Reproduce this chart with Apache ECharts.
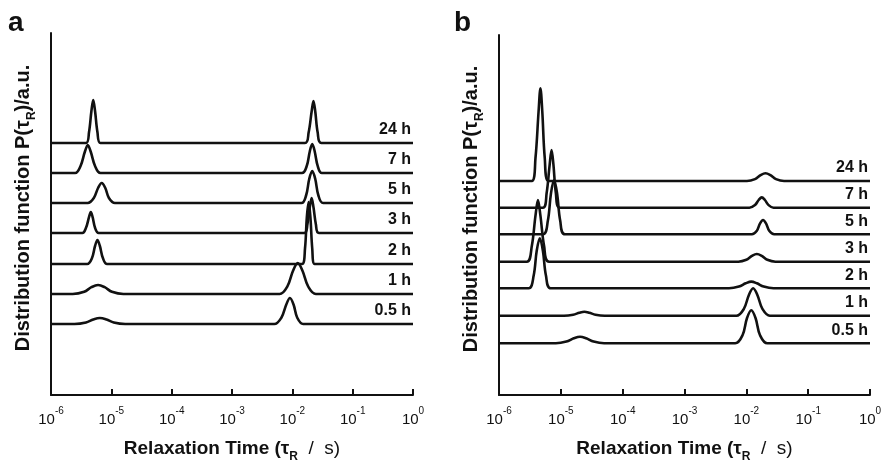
<!DOCTYPE html>
<html>
<head>
<meta charset="utf-8">
<script src="https://cdn.jsdelivr.net/npm/echarts@6/dist/echarts.min.js"></script>
<style>
  html, body { margin: 0; padding: 0; background: #fff; }
  #chart { width: 882px; height: 463px; }
</style>
</head>
<body>
<div id="chart"></div>
<script>
  // curve labels, bottom to top
  const times = ['0.5 h', '1 h', '2 h', '3 h', '5 h', '7 h', '24 h'];

  // vertical offsets of each trace (a.u.)
  const offsetsA = [71, 101, 131, 162, 192, 222, 252];
  const offsetsB = [51.7, 79.3, 106.7, 133.3, 160.7, 187.3, 214];

  // traces: [log10(tau / s), P] pairs, P above the trace baseline
  const curvesA = [
    [[-6, 0], [-5.61, 0], [-5.42, 1.5], [-5.30, 4.5], [-5.19, 6], [-5.08, 4.5], [-4.96, 1.5], [-4.77, 0],
     [-2.30, 0], [-2.18, 6.5], [-2.10, 19.5], [-2.04, 26], [-1.98, 19.5], [-1.92, 6.5], [-1.82, 0], [0, 0]],
    [[-6, 0], [-5.64, 0], [-5.45, 2.2], [-5.33, 6.8], [-5.22, 9], [-5.11, 6.8], [-4.99, 2.2], [-4.80, 0],
     [-2.21, 0], [-2.08, 7.8], [-1.99, 23], [-1.91, 31], [-1.83, 23], [-1.74, 7.8], [-1.61, 0], [0, 0]],
    [[-6, 0], [-5.40, 0], [-5.32, 6], [-5.27, 18], [-5.23, 24], [-5.19, 18], [-5.14, 6], [-5.07, 0],
     [-1.84, 0], [-1.79, 15.5], [-1.76, 46.5], [-1.73, 62], [-1.70, 46.5], [-1.67, 15.5], [-1.63, 0], [0, 0]],
    [[-6, 0], [-5.48, 0], [-5.42, 5.2], [-5.37, 15.8], [-5.34, 21], [-5.31, 15.8], [-5.27, 5.2], [-5.21, 0],
     [-1.80, 0], [-1.75, 8.8], [-1.71, 26], [-1.68, 35], [-1.65, 26], [-1.61, 8.8], [-1.56, 0], [0, 0]],
    [[-6, 0], [-5.39, 0], [-5.29, 5], [-5.22, 15], [-5.16, 20], [-5.10, 15], [-5.04, 5], [-4.94, 0],
     [-1.85, 0], [-1.77, 8], [-1.72, 24], [-1.67, 32], [-1.62, 24], [-1.57, 8], [-1.49, 0], [0, 0]],
    [[-6, 0], [-5.60, 0], [-5.51, 7], [-5.44, 21], [-5.39, 28], [-5.34, 21], [-5.27, 7], [-5.18, 0],
     [-1.84, 0], [-1.76, 7.2], [-1.71, 21.8], [-1.67, 29], [-1.63, 21.8], [-1.58, 7.2], [-1.51, 0], [0, 0]],
    [[-6, 0], [-5.42, 0], [-5.37, 10.8], [-5.33, 32], [-5.30, 43], [-5.27, 32], [-5.23, 10.8], [-5.18, 0],
     [-1.79, 0], [-1.73, 10.5], [-1.68, 31.5], [-1.65, 42], [-1.62, 31.5], [-1.58, 10.5], [-1.52, 0], [0, 0]]
  ];

  const curvesB = [
    [[-6, 0], [-5.08, 0], [-4.91, 1.7], [-4.79, 5], [-4.69, 6.6], [-4.59, 5], [-4.47, 1.7], [-4.30, 0],
     [-2.18, 0], [-2.06, 8.3], [-1.99, 25], [-1.92, 33], [-1.85, 25], [-1.78, 8.3], [-1.66, 0], [0, 0]],
    [[-6, 0], [-4.95, 0], [-4.80, 1], [-4.70, 3], [-4.62, 4], [-4.54, 3], [-4.44, 1], [-4.29, 0],
     [-2.16, 0], [-2.04, 6.8], [-1.96, 20.5], [-1.89, 27.4], [-1.82, 20.5], [-1.74, 6.8], [-1.62, 0], [0, 0]],
    [[-6, 0], [-5.52, 0], [-5.44, 12.5], [-5.39, 37.5], [-5.34, 50], [-5.29, 37.5], [-5.24, 12.5], [-5.16, 0],
     [-2.28, 0], [-2.12, 1.7], [-2.01, 5], [-1.92, 6.7], [-1.83, 5], [-1.72, 1.7], [-1.56, 0], [0, 0]],
    [[-6, 0], [-5.55, 0], [-5.47, 15.4], [-5.41, 46], [-5.37, 61.7], [-5.33, 46], [-5.27, 15.4], [-5.19, 0],
     [-2.13, 0], [-2.00, 1.9], [-1.91, 5.8], [-1.83, 7.7], [-1.75, 5.8], [-1.66, 1.9], [-1.53, 0], [0, 0]],
    [[-6, 0], [-5.29, 0], [-5.21, 13.6], [-5.16, 40.7], [-5.11, 54.3], [-5.06, 40.7], [-5.01, 13.6], [-4.93, 0],
     [-1.91, 0], [-1.83, 3.6], [-1.78, 10.7], [-1.73, 14.3], [-1.68, 10.7], [-1.63, 3.6], [-1.55, 0], [0, 0]],
    [[-6, 0], [-5.29, 0], [-5.23, 14.4], [-5.18, 43.3], [-5.15, 57.7], [-5.12, 43.3], [-5.08, 14.4], [-5.02, 0],
     [-1.95, 0], [-1.86, 2.6], [-1.80, 7.7], [-1.75, 10.3], [-1.70, 7.7], [-1.64, 2.6], [-1.56, 0], [0, 0]],
    [[-6, 0], [-5.47, 0], [-5.41, 23], [-5.36, 69.5], [-5.33, 92.7], [-5.30, 69.5], [-5.26, 23], [-5.20, 0],
     [-1.99, 0], [-1.86, 1.9], [-1.77, 5.8], [-1.69, 7.7], [-1.61, 5.8], [-1.52, 1.9], [-1.39, 0], [0, 0]]
  ];

  const FONT = 'Arial, "Liberation Sans", sans-serif';
  const INK = '#111';

  const chart = echarts.init(document.getElementById('chart'), null, { renderer: 'canvas' });

  const xAxisBase = {
    type: 'log',
    logBase: 10,
    min: 1e-6,
    max: 1,
    splitNumber: 6,
    nameLocation: 'middle',
    nameGap: 44,
    name: '{t|Relaxation Time (τ}{r|R}{n|  /  s)}',
    nameTextStyle: {
      rich: {
        t: { fontFamily: FONT, fontSize: 19, fontWeight: 'bold', color: INK, lineHeight: 24, verticalAlign: 'top' },
        r: { fontFamily: FONT, fontSize: 12, fontWeight: 'bold', color: INK, lineHeight: 12, verticalAlign: 'bottom' },
        n: { fontFamily: FONT, fontSize: 19, color: INK, lineHeight: 24, verticalAlign: 'top' }
      }
    },
    axisLine: { lineStyle: { color: INK, width: 2 } },
    axisTick: { inside: true, length: 6, lineStyle: { color: INK, width: 2 } },
    minorTick: { show: false },
    splitLine: { show: false },
    axisLabel: {
      margin: 11,
      formatter: function (v) {
        return '{b|10}{s|' + Math.round(Math.log10(v)) + '}';
      },
      rich: {
        b: { fontFamily: FONT, fontSize: 15, color: INK, lineHeight: 21, verticalAlign: 'bottom' },
        s: { fontFamily: FONT, fontSize: 10, color: INK, lineHeight: 10, verticalAlign: 'top' }
      }
    }
  };

  const yAxisBase = {
    type: 'value',
    min: 0,
    nameLocation: 'middle',
    nameGap: 13,
    name: '{t|Distribution function P(τ}{r|R}{t|)/a.u.}',
    nameTextStyle: {
      padding: [0, 0, 0, 12],
      rich: {
        t: { fontFamily: FONT, fontSize: 20, fontWeight: 'bold', color: INK, lineHeight: 25, verticalAlign: 'top' },
        r: { fontFamily: FONT, fontSize: 12, fontWeight: 'bold', color: INK, lineHeight: 12, verticalAlign: 'bottom' }
      }
    },
    axisLine: { show: true, lineStyle: { color: INK, width: 2 } },
    axisTick: { show: false },
    axisLabel: { show: false },
    splitLine: { show: false }
  };

  function buildSeries(curves, offsets, idx) {
    return curves.map((pts, i) => ({
      name: times[i],
      type: 'line',
      xAxisIndex: idx,
      yAxisIndex: idx,
      showSymbol: false,
      smooth: 0.35,
      lineStyle: { color: INK, width: 2.6 },
      data: pts.map(p => [Math.pow(10, p[0]), p[1] + offsets[i]]),
      endLabel: {
        show: true,
        formatter: times[i],
        align: 'right',
        verticalAlign: 'bottom',
        offset: [-10, -5],
        color: INK,
        fontFamily: FONT,
        fontSize: 16,
        fontWeight: 'bold'
      },
      silent: true
    }));
  }

  chart.setOption({
    animation: false,
    backgroundColor: '#fff',
    title: [
      { text: 'a', left: 8, top: 9, padding: 0, textStyle: { fontFamily: FONT, fontSize: 28, fontWeight: 'bold', color: INK } },
      { text: 'b', left: 454, top: 9, padding: 0, textStyle: { fontFamily: FONT, fontSize: 28, fontWeight: 'bold', color: INK } }
    ],
    grid: [
      { left: 51, top: 33, width: 362, height: 362, outerBoundsMode: 'none', containLabel: false },
      { left: 499, top: 35, width: 371, height: 360, outerBoundsMode: 'none', containLabel: false }
    ],
    xAxis: [
      Object.assign({ gridIndex: 0 }, xAxisBase),
      Object.assign({ gridIndex: 1 }, xAxisBase)
    ],
    yAxis: [
      Object.assign({ gridIndex: 0, max: 362 }, yAxisBase),
      Object.assign({ gridIndex: 1, max: 360 }, yAxisBase)
    ],
    series: buildSeries(curvesA, offsetsA, 0).concat(buildSeries(curvesB, offsetsB, 1))
  });
</script>
</body>
</html>
